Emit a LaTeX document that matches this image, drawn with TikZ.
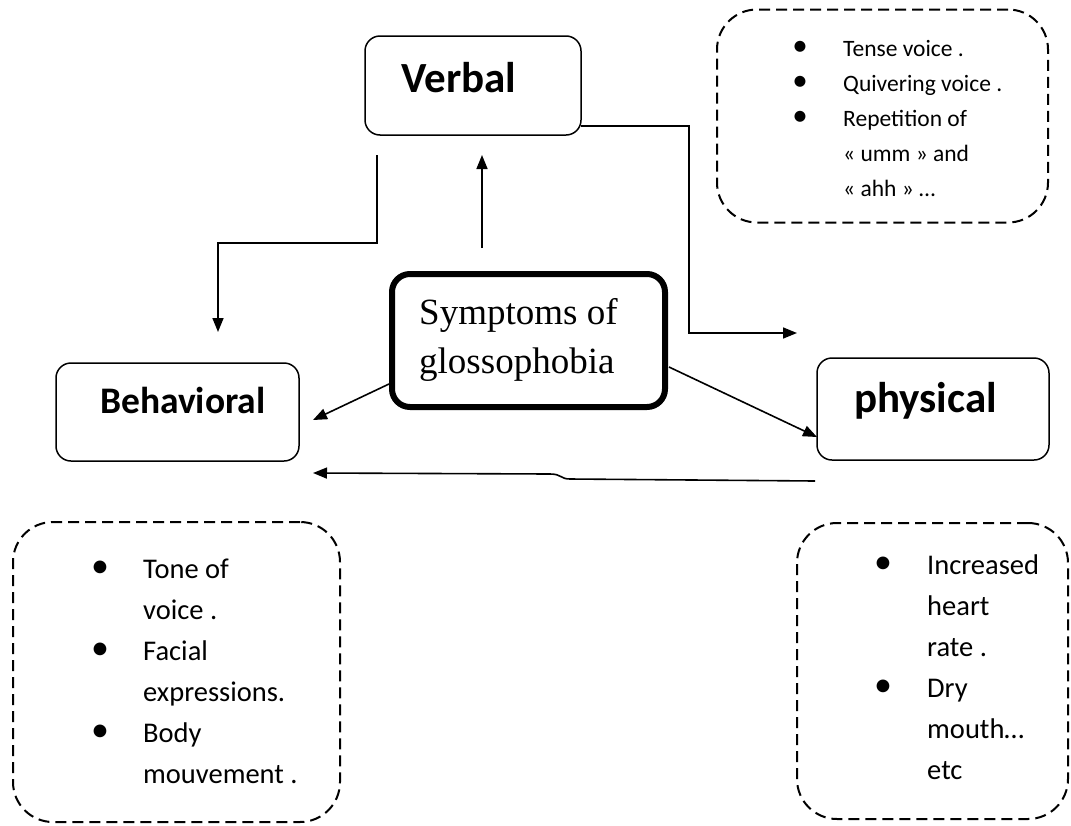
\documentclass[tikz,border=0pt]{standalone}
\usepackage{fontspec}
\setmainfont{Carlito}
\newfontfamily\serifx{Liberation Serif}
\usetikzlibrary{arrows.meta}
\begin{document}
\begin{tikzpicture}[x=1pt,y=-1pt,
  box/.style={draw, rounded corners=15pt, line width=1.5pt, inner sep=0pt},
  mainbox/.style={draw, rounded corners=18pt, line width=6pt, inner sep=0pt},
  dbox/.style={draw, dash pattern=on 11pt off 6pt, rounded corners=40pt, line width=2pt, inner sep=0pt},
  lbl/.style={anchor=base west, inner sep=0pt},
  ttl/.style={anchor=base west, inner sep=0pt, font=\fontsize{37}{44}\selectfont\serifx},
  conn/.style={line width=1.6pt, -{Triangle[length=14pt,width=11pt]}},
  small/.style={anchor=base west, inner sep=0pt, font=\fontsize{23.5}{28}\selectfont},
  big/.style={anchor=base west, inner sep=0pt, font=\fontsize{28.5}{34}\selectfont},
  bulS/.style={anchor=center, inner sep=0pt, font=\fontsize{31}{34}\selectfont},
  bulB/.style={anchor=center, inner sep=0pt, font=\fontsize{36}{40}\selectfont},
]
\useasboundingbox (0,0) rectangle (1071,825);

% boxes
\node[box, minimum width=216pt, minimum height=99pt] (verbal) at (473,85.5) {};
\node[lbl, font=\fontsize{43}{48}\selectfont\bfseries] (verbalT) at (401,92) {Verbal};

\node[mainbox, minimum width=273pt, minimum height=133pt] (main) at (528.5,340.5) {};
\node[ttl] (mainT1) at (419,324) {Symptoms of};
\node[ttl] (mainT2) at (419,373) {glossophobia};

\node[box, minimum width=243pt, minimum height=98pt] (behav) at (177.5,412) {};
\node[lbl, font=\fontsize{37.5}{42}\selectfont\bfseries] (behavT) at (100,413) {Behavioral};

\node[box, minimum width=232pt, minimum height=102pt] (phys) at (933,409) {};
\node[lbl, font=\fontsize{43}{48}\selectfont\bfseries] (physT) at (854,412) {physical};

% dashed boxes
\node[dbox, minimum width=331pt, minimum height=213pt] (tr) at (882.5,116) {};
\node[dbox, minimum width=327pt, minimum height=300pt] (bl) at (176.5,672) {};
\node[dbox, minimum width=271pt, minimum height=296pt] (br) at (932.5,671) {};

% top-right list
\node[bulS] (trb1) at (800,48) {\textbullet};
\node[bulS] (trb2) at (800,83) {\textbullet};
\node[bulS] (trb3) at (800,118) {\textbullet};
\node[small] (tr1) at (843,56) {Tense voice .};
\node[small] (tr2) at (843,91) {Quivering voice .};
\node[small] (tr3) at (843,126) {Repetition of};
\node[small] (tr4) at (843,161) {« umm » and};
\node[small] (tr5) at (843,196) {« ahh » …};

% bottom-left list
\node[bulB] (blb1) at (100,569) {\textbullet};
\node[bulB] (blb2) at (100,651) {\textbullet};
\node[bulB] (blb3) at (100,733) {\textbullet};
\node[big] (bl1) at (143,578) {Tone of};
\node[big] (bl2) at (143,619) {voice .};
\node[big] (bl3) at (143,660) {Facial};
\node[big] (bl4) at (143,701) {expressions.};
\node[big] (bl5) at (143,742) {Body};
\node[big] (bl6) at (143,783) {mouvement .};

% bottom-right list
\node[bulB] (brb1) at (883,565) {\textbullet};
\node[bulB] (brb2) at (883,688) {\textbullet};
\node[big] (br1) at (927,574) {Increased};
\node[big] (br2) at (927,615) {heart};
\node[big] (br3) at (927,656) {rate .};
\node[big] (br4) at (927,697) {Dry};
\node[big] (br5) at (927,738) {mouth…};
\node[big] (br6) at (927,779) {etc};

% connector coordinates
\coordinate (vR) at (581,126);
\coordinate (pIn) at (797,333);
\coordinate (vL) at (377,155);
\coordinate (bIn) at (218,332);
\coordinate (mTop) at (482,248);
\coordinate (vIn) at (482,155);
\coordinate (mL) at (389,384);
\coordinate (bSide) at (313,420);
\coordinate (mR) at (669,367);
\coordinate (pSide) at (817,437);
\coordinate (pB) at (815,481);
\coordinate (bB) at (313,473);

\draw[conn] (vR) -- (689,126) -- (689,333) -- (pIn);
\draw[conn] (vL) -- (377,243) -- (218,243) -- (bIn);
\draw[conn] (mTop) -- (vIn);
\draw[conn] (mL) -- (bSide);
\draw[conn] (mR) -- (pSide);
\draw[conn] (pB) -- (570,479) .. controls (560,479) and (562,474) .. (550,474) -- (bB);
\end{tikzpicture}
\end{document}
